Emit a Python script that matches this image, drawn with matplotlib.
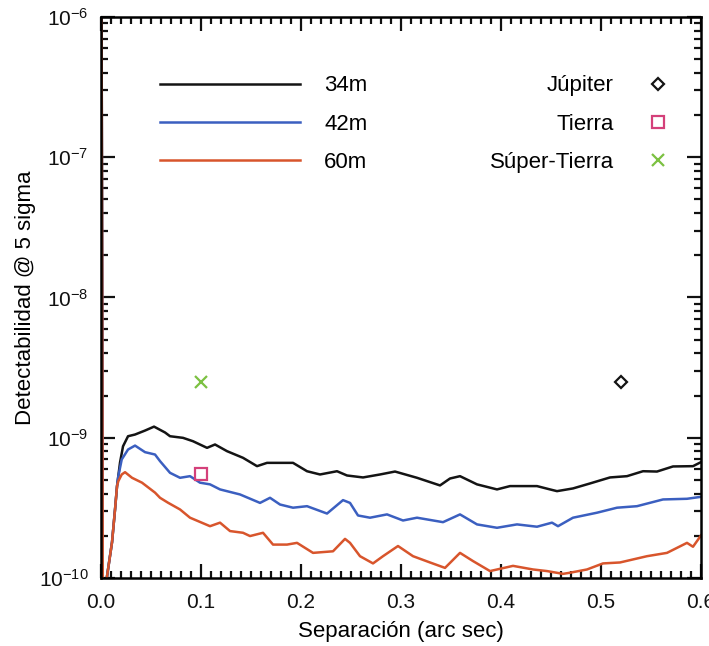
import numpy as np
import matplotlib
matplotlib.use('Agg')
import matplotlib.pyplot as plt
from matplotlib.ticker import MultipleLocator, LogLocator

plt.rcParams['font.family'] = ['Liberation Sans', 'DejaVu Sans']
plt.rcParams['mathtext.fontset'] = 'custom'
plt.rcParams['mathtext.rm'] = 'Liberation Sans'
plt.rcParams['mathtext.it'] = 'Liberation Sans'

# curvas de detectabilidad (separacion en arcsec, contraste)
x_34 = [0.0, 0.002, 0.006, 0.011, 0.014, 0.016, 0.019, 0.022, 0.027, 0.034, 0.044, 0.053,
        0.064, 0.069, 0.082, 0.092, 0.106, 0.114, 0.126, 0.142, 0.156, 0.166, 0.192, 0.206,
        0.219, 0.236, 0.246, 0.262, 0.279, 0.294, 0.316, 0.339, 0.349, 0.359, 0.376, 0.396,
        0.409, 0.436, 0.449, 0.456, 0.472, 0.489, 0.509, 0.526, 0.542, 0.556, 0.572, 0.592, 0.600]
y_34 = [1e-4, 1e-11, 1.03e-10, 1.80e-10, 3.08e-10, 4.52e-10, 6.66e-10, 8.69e-10, 1.025e-9, 1.054e-9,
        1.125e-9, 1.20e-9, 1.09e-9, 1.025e-9, 9.98e-10, 9.44e-10, 8.47e-10, 8.95e-10, 8.02e-10, 7.19e-10,
        6.27e-10, 6.62e-10, 6.62e-10, 5.77e-10, 5.47e-10, 5.77e-10, 5.38e-10, 5.21e-10, 5.47e-10, 5.74e-10,
        5.18e-10, 4.57e-10, 5.12e-10, 5.32e-10, 4.65e-10, 4.28e-10, 4.52e-10, 4.52e-10, 4.28e-10, 4.16e-10,
        4.35e-10, 4.72e-10, 5.21e-10, 5.32e-10, 5.77e-10, 5.74e-10, 6.24e-10, 6.27e-10, 6.70e-10]

x_42 = [0.0, 0.002, 0.006, 0.011, 0.014, 0.016, 0.0173, 0.0207, 0.027, 0.034, 0.044, 0.054,
        0.059, 0.069, 0.079, 0.089, 0.099, 0.109, 0.119, 0.139, 0.159, 0.169, 0.179, 0.192,
        0.206, 0.226, 0.242, 0.249, 0.257, 0.269, 0.286, 0.302, 0.316, 0.342, 0.359, 0.376,
        0.396, 0.416, 0.436, 0.451, 0.457, 0.472, 0.496, 0.516, 0.536, 0.562, 0.586, 0.600]
y_42 = [1e-4, 1e-11, 1.03e-10, 1.80e-10, 3.08e-10, 4.52e-10, 5.32e-10, 7.00e-10, 8.24e-10, 8.79e-10,
        7.89e-10, 7.59e-10, 6.81e-10, 5.62e-10, 5.18e-10, 5.32e-10, 4.78e-10, 4.65e-10, 4.28e-10, 3.94e-10,
        3.43e-10, 3.73e-10, 3.34e-10, 3.17e-10, 3.25e-10, 2.88e-10, 3.59e-10, 3.43e-10, 2.79e-10, 2.69e-10,
        2.84e-10, 2.57e-10, 2.69e-10, 2.50e-10, 2.84e-10, 2.41e-10, 2.28e-10, 2.41e-10, 2.32e-10, 2.48e-10,
        2.34e-10, 2.69e-10, 2.92e-10, 3.17e-10, 3.25e-10, 3.63e-10, 3.67e-10, 3.79e-10]

x_60 = [0.0, 0.002, 0.006, 0.011, 0.014, 0.016, 0.0173, 0.0207, 0.024, 0.031, 0.041, 0.054,
        0.059, 0.067, 0.079, 0.089, 0.109, 0.119, 0.129, 0.142, 0.149, 0.162, 0.172, 0.186,
        0.196, 0.212, 0.232, 0.244, 0.249, 0.259, 0.272, 0.282, 0.297, 0.312, 0.329, 0.344,
        0.359, 0.372, 0.389, 0.412, 0.432, 0.446, 0.462, 0.469, 0.486, 0.502, 0.519, 0.546,
        0.566, 0.586, 0.592, 0.600]
y_60 = [1e-4, 1e-11, 1.03e-10, 1.80e-10, 3.08e-10, 4.52e-10, 4.90e-10, 5.47e-10, 5.68e-10, 5.18e-10,
        4.78e-10, 4.06e-10, 3.73e-10, 3.44e-10, 3.08e-10, 2.69e-10, 2.34e-10, 2.48e-10, 2.16e-10, 2.10e-10,
        1.99e-10, 2.10e-10, 1.73e-10, 1.73e-10, 1.78e-10, 1.51e-10, 1.55e-10, 1.90e-10, 1.78e-10, 1.43e-10,
        1.27e-10, 1.43e-10, 1.69e-10, 1.43e-10, 1.29e-10, 1.18e-10, 1.51e-10, 1.32e-10, 1.12e-10, 1.22e-10,
        1.15e-10, 1.12e-10, 1.07e-10, 1.09e-10, 1.15e-10, 1.27e-10, 1.29e-10, 1.43e-10, 1.51e-10, 1.78e-10,
        1.67e-10, 2.01e-10]

# planetas
sep_jup, det_jup = 0.52, 2.48e-9
sep_tie, det_tie = 0.10, 5.47e-10
sep_sup, det_sup = 0.10, 2.50e-9

fig = plt.figure(figsize=(7.09, 6.46), dpi=100)
ax = fig.add_axes([0.1425, 0.1053, 0.8462, 0.8684])

l1, = ax.plot(x_34, y_34, color='#141414', lw=1.8, label='34m')
l2, = ax.plot(x_42, y_42, color='#3b5fc0', lw=1.8, label='42m')
l3, = ax.plot(x_60, y_60, color='#d8552c', lw=1.8, label='60m')

m1, = ax.plot([sep_jup], [det_jup], 'D', ms=6, mfc='none', mec='#141414', mew=1.6, ls='none', label='Júpiter')
m2, = ax.plot([sep_tie], [det_tie], 's', ms=8, mfc='none', mec='#d4407a', mew=1.6, ls='none', label='Tierra')
m3, = ax.plot([sep_sup], [det_sup], 'x', ms=9, mec='#7cc142', mew=1.6, ls='none', label='Súper-Tierra')

ax.set_yscale('log')
ax.set_xlim(0, 0.6)
ax.set_ylim(1e-10, 1e-6)
ax.xaxis.set_major_locator(MultipleLocator(0.1))
ax.xaxis.set_minor_locator(MultipleLocator(0.01))
ax.set_xticklabels([f'{v:.1f}' for v in ax.get_xticks()])
ax.yaxis.set_minor_locator(LogLocator(base=10, subs=np.arange(2, 10)))

ax.tick_params(which='both', direction='in', top=True, right=True, width=1.6, colors='#111111')
ax.tick_params(which='major', length=10, labelsize=15)
ax.tick_params(which='minor', length=5)
ax.tick_params(axis='x', which='major', pad=11)
ax.tick_params(axis='y', which='major', pad=9)
for s in ax.spines.values():
    s.set_linewidth(1.8)

ax.set_xlabel('Separación (arc sec)', fontsize=16, labelpad=6)
ax.set_ylabel('Detectabilidad @ 5 sigma', fontsize=16, labelpad=2)

leg1 = ax.legend(handles=[l1, l2, l3], loc='upper left', bbox_to_anchor=(0.098, 0.896),
                 frameon=False, fontsize=16, handlelength=6.3, handletextpad=1.1,
                 labelspacing=0.78, borderpad=0, borderaxespad=0)
ax.add_artist(leg1)
ax.legend(handles=[m1, m2, m3], loc='upper right', bbox_to_anchor=(0.947, 0.896),
          frameon=False, fontsize=16, handlelength=1.0, handletextpad=1.5,
          labelspacing=0.78, borderpad=0, borderaxespad=0, markerfirst=False, numpoints=1)

fig.savefig('out.png', dpi=100)
